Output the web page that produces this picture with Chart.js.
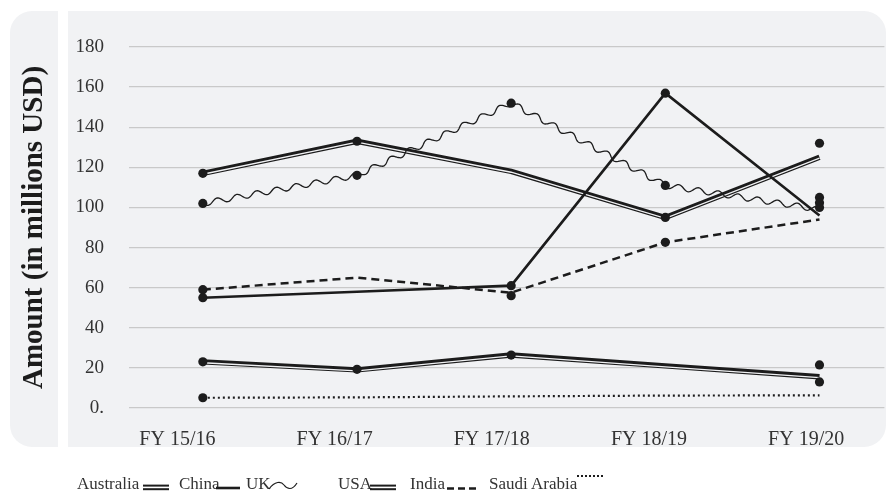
<!DOCTYPE html>
<html>
<head>
<meta charset="utf-8">
<script src="https://cdn.jsdelivr.net/npm/chart.js@4.4.1/dist/chart.umd.min.js"></script>
<style>
  html, body { margin: 0; padding: 0; background: #fff; }
  #wrap { position: relative; width: 889px; height: 499px; overflow: hidden; }
  #legend { position: absolute; left: 0; top: 0; width: 889px; height: 499px; pointer-events: none;
            font-family: "Liberation Serif", "Times New Roman", serif; font-size: 17px; color: #333; }
  .item { position: absolute; top: 474px; white-space: nowrap; line-height: 20px; }
  .sw { position: absolute; top: 471px; overflow: visible; }
</style>
</head>
<body>
<div id="wrap">
  <canvas id="c" width="889" height="499"></canvas>
  <div id="legend"></div>
</div>
<script>
// Fiscal years on the x axis
const categories = ['FY 15/16', 'FY 16/17', 'FY 17/18', 'FY 18/19', 'FY 19/20'];
// Value axis ticks (millions USD)
const yTickValues = [0, 20, 40, 60, 80, 100, 120, 140, 160, 180];

// Series: line path values and the dot marker values per year (null = no dot)
const seriesNames = ['Australia', 'China', 'UK', 'USA', 'India', 'Saudi Arabia'];
const australia     = [23, 19, 26.4, 21, 15.6];
const australiaDots = [23, 19.3, 26.4, null, 21.5];
const china         = [55, 58, 61, 157, 96];
const chinaDots     = [55, null, 61, 157, 100];
const uk            = [102, 116, 152, 111, 99];
const ukDots        = [102, 116, 152, 111, 102.4];
const usa           = [117, 133, 118, 95, 125];
const usaDots       = [117, 133, null, 95, 132];
const india         = [59, 65, 57.5, 82.6, 94];
const indiaDots     = [59, null, 56, 82.6, 105];
const saudi         = [5.1, 5.3, 5.8, 6.2, 6.3];
const saudiDots     = [5.1, null, null, null, 13];

const INK = '#1c1c1c';
const PANEL = '#f1f2f4';

const toXY = arr => arr.map((v, i) => ({ x: i, y: v })).filter(p => p.y !== null);

function lineSet(label, values, extra) {
  return Object.assign({
    label, data: toXY(values), borderColor: INK, backgroundColor: INK,
    borderWidth: 2.5, pointRadius: 0, pointHoverRadius: 0, fill: false,
    tension: 0, order: 1, borderCapStyle: 'butt', borderJoinStyle: 'miter'
  }, extra || {});
}
function dotSet(label, values) {
  return {
    label: label + ' markers', data: toXY(values), showLine: false,
    pointRadius: 4.6, pointHoverRadius: 4.6, pointBackgroundColor: INK,
    pointBorderWidth: 0, borderColor: INK, order: 0
  };
}

const datasets = [
  lineSet('Australia', australia, { lineStyle: 'double', borderWidth: 5.4 }),
  lineSet('China', china, { borderWidth: 2.6 }),
  lineSet('UK', uk, { lineStyle: 'wave', showLine: false }),
  lineSet('USA', usa, { lineStyle: 'double', borderWidth: 5.4 }),
  lineSet('India', india, { borderDash: [8, 5], borderWidth: 2.5 }),
  lineSet('Saudi Arabia', saudi, { borderDash: [2, 3], borderWidth: 2.2 }),
  dotSet('Australia', australiaDots),
  dotSet('China', chinaDots),
  dotSet('UK', ukDots),
  dotSet('USA', usaDots),
  dotSet('India', indiaDots),
  dotSet('Saudi Arabia', saudiDots)
];

// Rounded grey backdrop split into a title strip and the plot panel
const panels = {
  id: 'panels',
  beforeDraw(chart) {
    const ctx = chart.ctx;
    ctx.save();
    ctx.fillStyle = PANEL;
    ctx.beginPath();
    ctx.roundRect(10, 11, 876, 436, 22);
    ctx.fill();
    ctx.fillStyle = '#ffffff';
    ctx.fillRect(58, 11, 10, 436);
    ctx.restore();
  }
};

function polyline(ctx, pts) {
  ctx.beginPath();
  pts.forEach((p, i) => i ? ctx.lineTo(p.x, p.y) : ctx.moveTo(p.x, p.y));
  ctx.stroke();
}

function wavy(ctx, pts, amp, period) {
  let s = 0;
  ctx.beginPath();
  for (let k = 0; k < pts.length - 1; k++) {
    const a = pts[k], b = pts[k + 1];
    const dx = b.x - a.x, dy = b.y - a.y, L = Math.hypot(dx, dy);
    const nx = -dy / L, ny = dx / L;
    const n = Math.ceil(L);
    for (let j = (k === 0 ? 0 : 1); j <= n; j++) {
      const t = j / n;
      const w = amp * Math.sin(2 * Math.PI * (s + t * L) / period);
      const x = a.x + dx * t + nx * w, y = a.y + dy * t + ny * w;
      if (k === 0 && j === 0) ctx.moveTo(x, y); else ctx.lineTo(x, y);
    }
    s += L;
  }
  ctx.stroke();
}

// Double rules and wavy rules, stroked along the library's own point positions
const strokes = {
  id: 'strokes',
  afterDatasetDraw(chart, args) {
    const ds = chart.data.datasets[args.index];
    const pts = args.meta.data.map(e => ({ x: e.x, y: e.y }));
    const ctx = chart.ctx;
    if (ds.lineStyle === 'double') {
      ctx.save();
      ctx.strokeStyle = PANEL;
      ctx.lineWidth = 1.3;
      ctx.lineJoin = 'miter';
      ctx.translate(0, 0.9);
      polyline(ctx, pts);
      ctx.restore();
    } else if (ds.lineStyle === 'wave') {
      ctx.save();
      ctx.strokeStyle = INK;
      ctx.lineWidth = 1.3;
      wavy(ctx, pts, 2.8, 20);
      ctx.restore();
    }
  }
};

new Chart(document.getElementById('c'), {
  type: 'line',
  data: { datasets },
  plugins: [panels, strokes],
  options: {
    responsive: false,
    animation: false,
    events: [],
    layout: { padding: { left: 0, top: 47, right: 3, bottom: 0 } },
    plugins: { legend: { display: false }, tooltip: { enabled: false } },
    scales: {
      x: {
        type: 'linear', display: false, min: -0.479, max: 4.421
      },
      xt: {
        type: 'linear', position: 'bottom', min: -0.308, max: 4.498,
        grid: { display: false }, border: { display: false },
        afterBuildTicks: s => { s.ticks = categories.map((_, i) => ({ value: i })); },
        afterFit: s => { s.height = 91; },
        ticks: {
          padding: 12, maxRotation: 0, autoSkip: false, color: '#333',
          font: { family: '"Liberation Serif", serif', size: 20 },
          callback: v => categories[v]
        }
      },
      y: {
        type: 'linear', min: 0, max: 180,
        afterBuildTicks: s => { s.ticks = yTickValues.map(v => ({ value: v })); },
        afterFit: s => { s.width = 129; },
        grid: { color: '#c9c9c9', lineWidth: 1.3, drawTicks: false },
        border: { display: false },
        ticks: {
          padding: 25, color: '#333',
          font: { family: '"Liberation Serif", serif', size: 19 },
          callback: v => v === 0 ? '0.' : String(v)
        },
        title: {
          display: true, text: 'Amount (in millions USD)', color: '#1c1c1c',
          padding: { top: 17, bottom: 0 },
          font: { family: '"Liberation Serif", serif', size: 29, weight: 'bold' }
        }
      }
    }
  }
});

// Legend: name followed by a sample of its rule
const legendLeft = [77, 179, 246, 338, 410, 489];
const swatchLeft = [143, 216, 268, 370, 447, 577];
const swatches = {
  double: '<svg width="26" height="20"><line x1="0" y1="14.6" x2="26" y2="14.6" stroke="#1c1c1c" stroke-width="2"/><line x1="0" y1="18.2" x2="26" y2="18.2" stroke="#1c1c1c" stroke-width="2"/></svg>',
  solid: '<svg width="24" height="20"><line x1="0" y1="17" x2="24" y2="17" stroke="#1c1c1c" stroke-width="2.6"/></svg>',
  wave: '<svg width="30" height="20"><path d="M1 18 C 7 10, 13 10, 16 14 S 24 20, 29 12" fill="none" stroke="#1c1c1c" stroke-width="1.2"/></svg>',
  dash: '<svg width="31" height="20"><line x1="0" y1="17.5" x2="31" y2="17.5" stroke="#1c1c1c" stroke-width="2.5" stroke-dasharray="7 4"/></svg>',
  dot: '<svg width="28" height="20"><line x1="0" y1="5" x2="28" y2="5" stroke="#1c1c1c" stroke-width="2" stroke-dasharray="2 2"/></svg>'
};
const legendKinds = ['double', 'solid', 'wave', 'double', 'dash', 'dot'];
const legend = document.getElementById('legend');
seriesNames.forEach((name, i) => {
  const el = document.createElement('div');
  el.className = 'item';
  el.style.left = legendLeft[i] + 'px';
  el.textContent = name;
  legend.appendChild(el);
  const sw = document.createElement('div');
  sw.className = 'sw';
  sw.style.left = swatchLeft[i] + 'px';
  sw.innerHTML = swatches[legendKinds[i]];
  legend.appendChild(sw);
});
</script>
</body>
</html>
